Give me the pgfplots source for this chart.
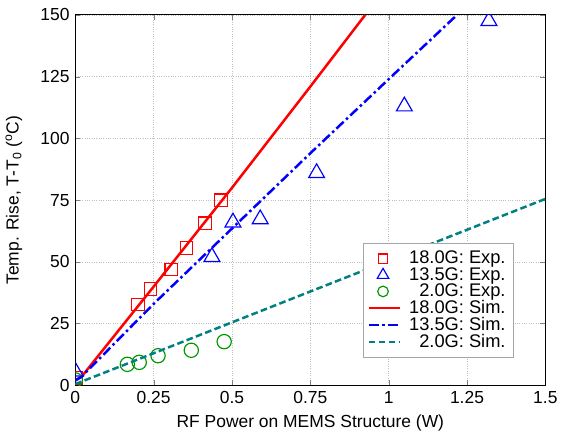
\documentclass[border=0pt]{standalone}
\usepackage{fontspec}
\setmainfont{Liberation Sans}
\usepackage{pgfplots}
\pgfplotsset{compat=1.18}
\definecolor{simteal}{RGB}{0,128,128}
\definecolor{expgreen}{RGB}{0,150,0}
\pgfplotsset{simline/.style={legend image code/.code={\draw[##1] (0cm,0cm) -- (0.65cm,0cm);}}}

\begin{document}
\begin{tikzpicture}
\begin{axis}[
    scale only axis, width=283pt, height=223pt,
    xmin=0, xmax=1.5, ymin=0, ymax=150,
    xtick={0,0.25,0.5,0.75,1,1.25,1.5},
    xticklabels={0,0.25,0.5,0.75,1,1.25,1.5},
    ytick={0,25,50,75,100,125,150},
    /pgf/number format/assume math mode=true,
    tick label style={font=\fontsize{10.5}{12}\selectfont},
    label style={font=\fontsize{10.5}{12}\selectfont},
    xlabel={RF Power on MEMS Structure (W)},
    ylabel={Temp. Rise, T-T\textsubscript{0} (\textsuperscript{o}C)},
    ylabel style={yshift=4pt},
    grid=major,
    major grid style={densely dotted, gray!50},
    tick align=inside, major tick length=3pt,
    axis line style={black, line width=0.6pt},
    clip marker paths=true,
    legend cell align=right,
    legend style={at={(0.932,0.075)}, anchor=south east, draw=gray!70,
        font=\fontsize{11}{11}\selectfont, row sep=-3.3pt, inner sep=2.5pt,
        column sep=3pt},
]
\addplot[only marks, mark=square, mark size=3.7pt, red, line width=0.7pt,
    legend image post style={mark size=2.8pt}] coordinates
  {(0.003,3) (0.20,32.7) (0.24,39) (0.306,46.8) (0.354,55.6) (0.414,65.7) (0.465,75)};
\addplot[only marks, mark=triangle, mark size=5.5pt, blue, line width=0.7pt,
    legend image post style={mark size=4pt}] coordinates
  {(0.0,5.6) (0.436,52) (0.503,66) (0.59,67.3) (0.77,86) (1.05,113) (1.32,147.6)};
\addplot[only marks, mark=o, mark size=4.3pt, expgreen, line width=0.7pt,
    legend image post style={mark size=3.2pt}] coordinates
  {(0.0,2.2) (0.166,8.5) (0.204,9.3) (0.264,12) (0.37,14.2) (0.475,17.7)};
\addplot[red, line width=1.5pt, simline] coordinates
  {(0.0,2) (0.02,3.5) (0.25,40) (0.5,80) (0.75,121) (0.925,150)};
\addplot[blue, line width=1.5pt, dash pattern=on 6pt off 2pt on 1.5pt off 2pt, simline] coordinates
  {(0.0,2) (0.02,3.5) (0.25,33) (0.5,63.5) (0.75,94) (1.0,124) (1.218,150)};
\addplot[simteal, line width=1.5pt, dash pattern=on 4pt off 2pt, simline] coordinates
  {(0.0,0.5) (0.5,25.5) (1.0,50.5) (1.5,75.5)};
\legend{18.0G: Exp., 13.5G: Exp., 2.0G: Exp., 18.0G: Sim., 13.5G: Sim., 2.0G: Sim.}
\end{axis}
\path (current axis.north) ++(0,9pt);
\end{tikzpicture}
\end{document}
